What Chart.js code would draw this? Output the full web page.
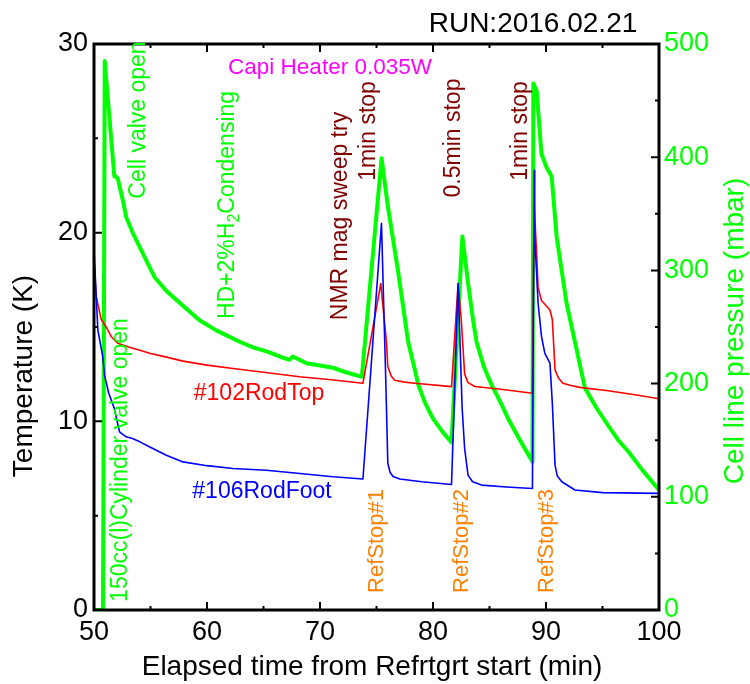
<!DOCTYPE html>
<html>
<head>
<meta charset="utf-8">
<script src="https://cdn.jsdelivr.net/npm/chart.js@4/dist/chart.umd.min.js"></script>
<style>
  html, body { margin: 0; padding: 0; background: #fff; }
  canvas { display: block; }
</style>
</head>
<body>
<canvas id="chart" width="750" height="684"></canvas>
<script>
// Cell line pressure (mbar), right axis
const pressureTime = [50.0, 50.8, 50.95, 51.8, 51.95, 52.11, 52.55, 52.85, 53.44, 54.32, 55.36, 56.39, 57.28, 59.34, 60.82, 62.89,
  64.07, 65.4, 66.7, 67.3, 67.6, 68.8, 70.0, 71.15, 72.3, 73.7,
  75.45, 76.0, 76.9, 77.8, 78.4, 78.7, 79.3, 80.0, 80.8, 81.64,
  82.6, 83.1, 83.55, 83.85, 84.5, 85.18, 86.0, 86.65, 87.7, 88.8,
  88.88, 89.17, 89.6, 90.05, 90.5, 90.94, 91.82, 92.56, 93.45, 94.5, 95.5, 96.4, 97.28, 98.5, 100.0];
const pressureValues = [0, 0, 485, 383, 383, 381, 362, 347, 333, 315, 294, 282, 274, 256, 247, 237,
  232, 228, 223, 221, 224, 218, 216, 214, 210, 206,
  399, 357, 300, 237, 212, 199, 183, 169, 158, 148,
  330, 289, 256, 237, 215, 199, 183, 169, 150, 131,
  465, 459, 403, 391, 383, 330, 271, 237, 196, 178, 163, 150, 140, 124, 106];

// #102RodTop temperature (K), left axis
const rodTopTime = [50.0, 50.2, 50.64, 51.08, 51.52, 52.1, 53.0, 53.9, 55.0, 56.24, 57.87, 60.0, 62.3, 65.0, 68.2, 71.0, 73.8,
  75.38, 75.88, 76.0, 76.3, 76.6, 77.5, 78.4, 81.64,
  82.22, 82.5, 82.8, 83.1, 83.7, 86.0, 88.8,
  88.95, 89.17, 89.3, 89.6, 90.35, 90.56, 90.8, 91.1, 91.5, 92.2, 93.0, 95.5, 98.0, 100.0];
const rodTopTemp = [18.5, 16.6, 15.4, 15.0, 14.5, 14.14, 13.95, 13.79, 13.6, 13.43, 13.19, 12.98, 12.8, 12.6, 12.36, 12.2, 12.02,
  17.3, 14.2, 12.9, 12.4, 12.18, 12.08, 12.02, 11.84,
  17.3, 15.4, 12.5, 12.05, 11.85, 11.7, 11.49,
  21.5, 18.9, 17.1, 16.4, 15.9, 15.4, 12.73, 12.3, 12.02, 11.9, 11.8, 11.62, 11.4, 11.2];

// #106RodFoot temperature (K), left axis
const rodFootTime = [50.0, 50.34, 50.78, 50.93, 51.3, 51.8, 52.26, 52.85, 53.4, 54.1, 54.9, 56.4, 57.87, 60.0, 62.3, 65.25, 68.0, 71.15, 73.8,
  75.44, 75.82, 76.0, 76.2, 76.46, 77.06, 79.0, 81.64,
  82.22, 82.58, 82.8, 83.1, 83.5, 84.3, 86.5, 88.8,
  88.95, 89.0, 89.3, 89.6, 89.9, 90.35, 90.56, 90.8, 91.0, 91.4, 92.56, 95.0, 100.0];
const rodFootTemp = [19.1, 14.85, 13.4, 12.45, 11.5, 10.68, 9.44, 9.18, 9.09, 8.9, 8.65, 8.2, 7.85, 7.65, 7.5, 7.41, 7.25, 7.06, 6.94,
  20.5, 12.2, 7.79, 7.3, 7.08, 6.94, 6.8, 6.65,
  17.3, 10.68, 8.56, 7.15, 6.8, 6.62, 6.52, 6.44,
  23.3, 19.8, 16.26, 14.5, 13.6, 13.08, 10.96, 7.68, 7.1, 6.8, 6.36, 6.22, 6.18];

const timeRange = [50, 100];
const tempRange = [0, 30];
const pressureRange = [0, 500];

const FONT = "'Liberation Sans', Arial, Helvetica, sans-serif";

function toPoints(xs, ys) {
  return xs.map((x, i) => ({ x: x, y: ys[i] }));
}

// frame, inward ticks and all text labels
const decorations = {
  id: 'decorations',
  afterDatasetsDraw(chart) {
    const ctx = chart.ctx;
    const a = chart.chartArea;
    const sx = chart.scales.x, sT = chart.scales.yT, sP = chart.scales.yP;
    ctx.save();
    ctx.strokeStyle = '#000';
    ctx.lineWidth = 2;
    ctx.beginPath();
    for (let v = 50; v <= 100; v += 5) {
      const px = sx.getPixelForValue(v);
      const len = v % 10 === 0 ? 8 : 4;
      ctx.moveTo(px, a.bottom); ctx.lineTo(px, a.bottom - len);
      ctx.moveTo(px, a.top); ctx.lineTo(px, a.top + len);
    }
    for (let v = 0; v <= 30; v += 5) {
      const py = sT.getPixelForValue(v);
      const len = v % 10 === 0 ? 8 : 4;
      ctx.moveTo(a.left, py); ctx.lineTo(a.left + len, py);
    }
    for (let v = 0; v <= 500; v += 50) {
      const py = sP.getPixelForValue(v);
      const len = v % 100 === 0 ? 8 : 4;
      ctx.moveTo(a.right, py); ctx.lineTo(a.right - len, py);
    }
    ctx.stroke();
    ctx.lineWidth = 3;
    ctx.strokeRect(a.left, a.top, a.right - a.left, a.bottom - a.top);
    ctx.restore();
  },
  afterDraw(chart) {
    const ctx = chart.ctx;
    ctx.save();
    const text = (s, x, y, size, color, align) => {
      ctx.font = size + 'px ' + FONT;
      ctx.fillStyle = color;
      ctx.textAlign = align || 'center';
      ctx.textBaseline = 'alphabetic';
      ctx.fillText(s, x, y);
    };
    // vertical text, reading bottom to top; bx = baseline x, cy = centre y
    const vtext = (s, bx, cy, size, color) => {
      ctx.save();
      ctx.translate(bx, cy);
      ctx.rotate(-Math.PI / 2);
      text(s, 0, 0, size, color);
      ctx.restore();
    };

    text('RUN:2016.02.21', 533, 32, 28, '#000');
    text('Capi Heater 0.035W', 330, 74, 22.5, '#ff00ff');
    text('#102RodTop', 259, 400, 23, '#ff0000');
    text('#106RodFoot', 262, 498, 23, '#0000ff');
    text('Elapsed time from Refrtgrt start (min)', 372, 675, 28, '#000');

    vtext('Temperature (K)', 32, 376, 28, '#000');
    vtext('Cell line pressure (mbar)', 743, 331, 28, '#00ff00');

    vtext('Cell valve open', 144.5, 120, 23, '#00ff00');
    vtext('150cc(l)Cylinder valve open', 126.5, 460, 23, '#00ff00');

    // HD+2%H2Condensing with subscript
    ctx.save();
    ctx.translate(233.5, 205);
    ctx.rotate(-Math.PI / 2);
    ctx.fillStyle = '#00ff00';
    ctx.textBaseline = 'alphabetic';
    ctx.textAlign = 'left';
    const p1 = 'HD+2%H', p2 = '2', p3 = 'Condensing';
    ctx.font = '23px ' + FONT;
    const w1 = ctx.measureText(p1).width, w3 = ctx.measureText(p3).width;
    ctx.font = '16px ' + FONT;
    const w2 = ctx.measureText(p2).width;
    let x0 = -(w1 + w2 + w3) / 2;
    ctx.font = '23px ' + FONT;
    ctx.fillText(p1, x0, 0);
    ctx.font = '16px ' + FONT;
    ctx.fillText(p2, x0 + w1, 5);
    ctx.font = '23px ' + FONT;
    ctx.fillText(p3, x0 + w1 + w2, 0);
    ctx.restore();

    vtext('NMR mag sweep try', 346.5, 216, 23, '#800000');
    vtext('1min stop', 374.5, 131, 23, '#800000');
    vtext('0.5min stop', 459.5, 138, 23, '#800000');
    vtext('1min stop', 526.5, 131, 23, '#800000');

    vtext('RefStop#1', 383, 541, 22, '#ff8000');
    vtext('RefStop#2', 468, 541, 22, '#ff8000');
    vtext('RefStop#3', 553, 541, 22, '#ff8000');
    ctx.restore();
  }
};

const ctx = document.getElementById('chart').getContext('2d');
const chart = new Chart(ctx, {
  type: 'line',
  data: {
    datasets: [
      {
        label: 'Cell line pressure',
        data: toPoints(pressureTime, pressureValues),
        yAxisID: 'yP',
        borderColor: '#00ff00',
        borderWidth: 4,
        borderJoinStyle: 'round',
        pointRadius: 0,
        tension: 0,
        order: 3
      },
      {
        label: '#102RodTop',
        data: toPoints(rodTopTime, rodTopTemp),
        yAxisID: 'yT',
        borderColor: '#ff0000',
        borderWidth: 1.6,
        borderJoinStyle: 'round',
        pointRadius: 0,
        tension: 0,
        order: 2
      },
      {
        label: '#106RodFoot',
        data: toPoints(rodFootTime, rodFootTemp),
        yAxisID: 'yT',
        borderColor: '#0000ff',
        borderWidth: 1.6,
        borderJoinStyle: 'round',
        pointRadius: 0,
        tension: 0,
        order: 1
      }
    ]
  },
  options: {
    responsive: false,
    devicePixelRatio: 1,
    animation: false,
    layout: { padding: { top: 44, left: 0, right: 0, bottom: 0 } },
    plugins: { legend: { display: false }, tooltip: { enabled: false } },
    scales: {
      x: {
        type: 'linear',
        min: timeRange[0],
        max: timeRange[1],
        ticks: { stepSize: 10, color: '#000', font: { size: 27, family: FONT }, padding: 6, maxRotation: 0 },
        grid: { display: false, drawTicks: false },
        border: { display: false },
        afterFit: s => { s.height = 74; }
      },
      yT: {
        position: 'left',
        min: tempRange[0],
        max: tempRange[1],
        ticks: { stepSize: 10, color: '#000', font: { size: 27, family: FONT }, padding: 6 },
        grid: { display: false, drawTicks: false },
        border: { display: false },
        afterFit: s => { s.width = 94; }
      },
      yP: {
        position: 'right',
        min: pressureRange[0],
        max: pressureRange[1],
        ticks: { stepSize: 100, color: '#00ff00', font: { size: 27, family: FONT }, padding: 5 },
        grid: { display: false, drawTicks: false },
        border: { display: false },
        afterFit: s => { s.width = 91; }
      }
    }
  },
  plugins: [decorations]
});
</script>
</body>
</html>
